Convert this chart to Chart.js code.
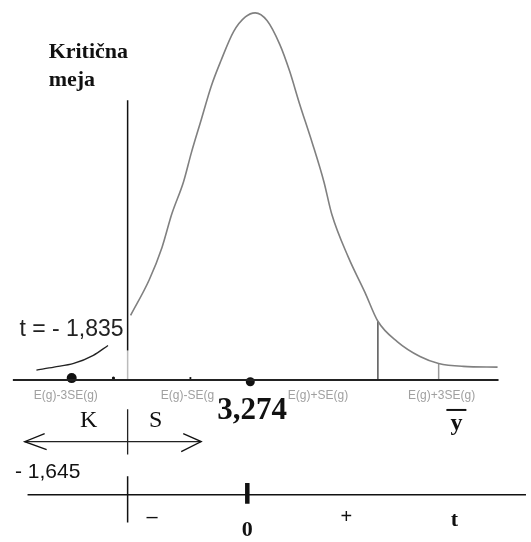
<!DOCTYPE html>
<html>
<head>
<meta charset="utf-8">
<script src="https://cdn.jsdelivr.net/npm/chart.js@4.4.0/dist/chart.umd.min.js"></script>
<style>
    body { margin: 0; background: #fff; }
    canvas { display: block; }
</style>
</head>
<body>
<canvas id="chart-kriticna-meja" width="531" height="542"></canvas>
<script>
// sampling distribution, x in t units, y in % of the peak height
const curveT = [-1.605, -1.355, -1.184, -1.053, -0.895, -0.789, -0.658, -0.526, -0.395, -0.224, -0.066, 0.066,
    0.224, 0.395, 0.526, 0.658, 0.829, 0.987, 1.092, 1.316, 1.539, 1.711, 1.974, 2.276, 2.526, 2.855, 3.316];
const curveY = [17.6, 27.3, 36.1, 45.2, 54.0, 62.0, 70.9, 79.9, 86.9, 94.9, 98.9, 100,
    97.9, 91.4, 84.2, 75.4, 64.7, 54.0, 45.2, 33.4, 23.8, 16.0, 10.4, 6.4, 4.5, 3.7, 3.5];

// left tail of the t distribution
const tailT = [-2.868, -2.632, -2.368, -2.105, -1.908];
const tailY = [2.7, 3.5, 4.5, 6.7, 9.4];

const critT = -1.645;
const critLabel = '- 1,645';
const tValue = -1.835;
const tLabel = 't = - 1,835';
const meanLabel = '3,274';

const dotsT = [-2.395, tValue, -0.803, 0];
const boundT = [1.711, 2.526];

const seTicks = [-2.474, -0.842, 0.908, 2.566];
const seLabels = ['E(g)-3SE(g)', 'E(g)-SE(g', 'E(g)+SE(g)', 'E(g)+3SE(g)'];

const axisTicks = [-1.316, -0.04, 1.289, 2.737];
const axisLabels = ['–', '0', '+', 't'];

// rows of the diagram (same units as the curve)
const rowArrow = -16.8;
const rowAxis = -31.3;

function seg(x1, y1, x2, y2, color, width) {
    return {
        data: [{ x: x1, y: y1 }, { x: x2, y: y2 }],
        showLine: true,
        borderColor: color,
        borderWidth: width,
        pointRadius: 0
    };
}

function curveAt(t) {
    return curveY[curveT.indexOf(t)];
}

const annotations = {
    id: 'annotations',
    afterDatasetsDraw(chart) {
        const ctx = chart.ctx;
        const xs = chart.scales.x;
        const ys = chart.scales.y;
        const xc = xs.getPixelForValue(critT);
        const y0 = ys.getPixelForValue(0);
        const ya = ys.getPixelForValue(rowArrow);
        const yb = ys.getPixelForValue(rowAxis);

        ctx.save();
        ctx.fillStyle = '#111';
        ctx.textBaseline = 'alphabetic';

        ctx.font = 'bold 22px "Liberation Serif"';
        ctx.textAlign = 'left';
        ctx.fillText('Kritična', xc - 79, 58);
        ctx.fillText('meja', xc - 79, 86);

        ctx.font = '23px "Liberation Sans"';
        ctx.textAlign = 'right';
        ctx.fillStyle = '#222';
        ctx.fillText(tLabel, xc - 4, y0 - 44);

        // grey E(g) / SE(g) labels under the baseline
        ctx.font = '12px "Liberation Sans"';
        ctx.textAlign = 'center';
        ctx.fillStyle = '#a0a0a0';
        seTicks.forEach((t, i) => {
            ctx.fillText(seLabels[i], xs.getPixelForValue(t), y0 + 19);
        });

        ctx.fillStyle = '#111';
        ctx.font = 'bold 31px "Liberation Serif"';
        ctx.textAlign = 'left';
        ctx.fillText(meanLabel, xs.getPixelForValue(0) - 33, y0 + 39);

        // y bar
        const yBarX = xs.getPixelForValue(2.737);
        ctx.font = 'bold 24px "Liberation Serif"';
        ctx.textAlign = 'center';
        ctx.fillText('y', yBarX + 2, y0 + 50);
        ctx.strokeStyle = '#111';
        ctx.lineWidth = 2;
        ctx.beginPath();
        ctx.moveTo(yBarX - 8, y0 + 30);
        ctx.lineTo(yBarX + 12, y0 + 30);
        ctx.stroke();

        ctx.font = '24px "Liberation Serif"';
        ctx.fillText('K', xc - 39, ya - 15);
        ctx.fillText('S', xc + 28, ya - 15);

        // arrow heads of the K / S row
        const xl = xs.getPixelForValue(-3.026);
        const xr = xs.getPixelForValue(-0.658);
        ctx.lineWidth = 1.3;
        ctx.beginPath();
        ctx.moveTo(xl + 20, ya - 8);
        ctx.lineTo(xl, ya);
        ctx.lineTo(xl + 22, ya + 8);
        ctx.moveTo(xr - 18, ya - 8);
        ctx.lineTo(xr, ya);
        ctx.lineTo(xr - 20, ya + 10);
        ctx.stroke();

        ctx.font = '21px "Liberation Sans"';
        ctx.textAlign = 'left';
        ctx.fillText(critLabel, 15, yb - 17);

        ctx.textAlign = 'center';
        axisTicks.forEach((t, i) => {
            const px = xs.getPixelForValue(t);
            if (i === 0 || i === 2) {
                ctx.font = '20px "Liberation Sans"';
                ctx.fillText(axisLabels[i], px, yb + 28);
            } else {
                ctx.font = 'bold 22px "Liberation Serif"';
                ctx.fillText(axisLabels[i], px, yb + (i === 1 ? 41 : 31));
            }
        });
        ctx.restore();
    }
};

document.addEventListener('DOMContentLoaded', function () {
    const ctx = document.getElementById('chart-kriticna-meja').getContext('2d');

    const datasets = [
        {
            data: curveT.map((t, i) => ({ x: t, y: curveY[i] })),
            showLine: true,
            borderColor: '#808080',
            borderWidth: 1.6,
            cubicInterpolationMode: 'monotone',
            pointRadius: 0
        },
        {
            data: tailT.map((t, i) => ({ x: t, y: tailY[i] })),
            showLine: true,
            borderColor: '#222',
            borderWidth: 1.3,
            cubicInterpolationMode: 'monotone',
            pointRadius: 0
        },
        seg(-3.184, 0, 3.329, 0, '#222', 2),
        seg(critT, 76.2, critT, 8, '#111', 1.5),
        seg(critT, 8, critT, 0, '#bbb', 1.5),
        seg(boundT[0], curveAt(boundT[0]), boundT[0], 0, '#555', 1.5),
        seg(boundT[1], curveAt(boundT[1]), boundT[1], 0, '#999', 1.5),
        seg(-3.026, rowArrow, -0.658, rowArrow, '#222', 1.3),
        seg(critT, -8, critT, -20.3, '#222', 1.3),
        seg(-2.987, rowAxis, 3.697, rowAxis, '#111', 1.5),
        seg(critT, -26.2, critT, -38.8, '#111', 1.5),
        seg(-0.04, -28.1, -0.04, -33.7, '#111', 4.5),
        {
            data: dotsT.map((t, i) => ({ x: t, y: i === 3 ? -0.5 : 0.5 })),
            showLine: false,
            backgroundColor: '#111',
            borderWidth: 0,
            pointRadius: [5, 1.6, 1.1, 4.5]
        }
    ];

    new Chart(ctx, {
        type: 'scatter',
        data: { datasets: datasets },
        options: {
            responsive: false,
            animation: false,
            layout: { padding: 0 },
            plugins: {
                legend: { display: false },
                tooltip: { enabled: false }
            },
            scales: {
                x: { type: 'linear', display: false, min: -250 / 76, max: 281 / 76 },
                y: { type: 'linear', display: false, min: -160 / 3.74, max: 382 / 3.74 }
            }
        },
        plugins: [annotations]
    });
});
</script>
</body>
</html>
